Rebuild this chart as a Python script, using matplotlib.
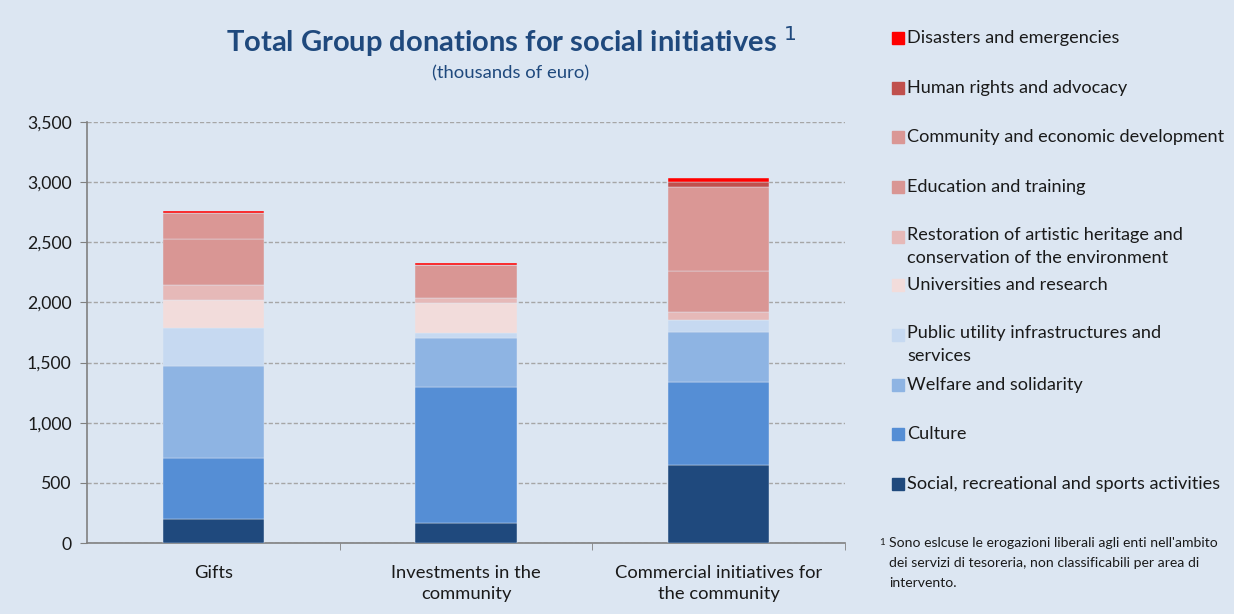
import matplotlib.pyplot as plt
import numpy as np
from matplotlib.patches import Rectangle

plt.rcParams['font.family'] = ['Lato', 'DejaVu Sans']

categories = ['Gifts', 'Investments in the\ncommunity', 'Commercial initiatives for\nthe community']

# stacked from bottom to top
series = ['Social, recreational and sports activities',
          'Culture',
          'Welfare and solidarity',
          'Public utility infrastructures and\nservices',
          'Universities and research',
          'Restoration of artistic heritage and\nconservation of the environment',
          'Education and training',
          'Community and economic development',
          'Human rights and advocacy',
          'Disasters and emergencies']

social = [197, 169, 651]
culture = [512, 1131, 688]
welfare = [763, 407, 418]
public_utility = [313, 39, 94]
universities = [238, 249, 0]
restoration = [119, 42, 67]
education = [383, 277, 343]
community = [221, 0, 699]
human_rights = [0, 0, 41]
disasters = [15, 12, 34]

values = [social, culture, welfare, public_utility, universities,
          restoration, education, community, human_rights, disasters]

colors = ['#1F497D', '#558ED5', '#8EB4E3', '#C6D9F1', '#F2DCDB',
          '#E6B9B8', '#D99694', '#DA9795', '#C0504D', '#FF0000']

bg = '#DCE6F2'
navy = '#1F497D'
txt = '#1a1a1a'

fig = plt.figure(figsize=(12.34, 6.14), dpi=100, facecolor=bg)
ax = fig.add_axes([87 / 1234, 1 - 543 / 614, (845 - 87) / 1234, (543 - 122) / 614])
ax.set_facecolor(bg)

x = np.arange(len(categories))
bottom = np.zeros(len(categories))
for vals, col, name in zip(values, colors, series):
    ax.bar(x, vals, width=0.4, bottom=bottom, color=col, edgecolor='#E0E8F3',
           linewidth=0.3, label=name, zorder=3)
    bottom += np.array(vals)

ax.set_xlim(-0.5, 2.5)
ax.set_ylim(0, 3500)
ax.set_yticks(np.arange(0, 3501, 500))
ax.set_yticklabels(['{:,}'.format(v) for v in range(0, 3501, 500)], fontsize=12.7, color=txt)
ax.yaxis.grid(True, linestyle=(0, (3, 1.5)), color='#A6A6A6', linewidth=1, zorder=0)
ax.tick_params(axis='y', length=5, color='#808080', pad=6)

ax.set_xticks(x)
ax.set_xticklabels(categories, fontsize=13.2, color=txt, linespacing=1.4)
ax.tick_params(axis='x', length=0, pad=16)
ax.set_xticks([0.5, 1.5, 2.5], minor=True)
ax.tick_params(axis='x', which='minor', length=5, color='#808080')

for s in ['top', 'right']:
    ax.spines[s].set_visible(False)
for s in ['left', 'bottom']:
    ax.spines[s].set_color('#808080')
    ax.spines[s].set_linewidth(1.2)

# title
fig.text(511 / 1234, 1 - 42 / 614, 'Total Group donations for social initiatives $^{1}$',
         ha='center', va='center', fontsize=21, fontweight='bold', color=navy)
fig.text(511 / 1234, 1 - 73 / 614, '(thousands of euro)', ha='center', va='center',
         fontsize=13.3, color=navy)

# legend, top entry first
legend_y = [38, 88, 137, 187, 237, 285, 335, 385, 434, 484]
for yy, name, col in zip(legend_y, series[::-1], colors[::-1]):
    fig.patches.append(Rectangle((892 / 1234, 1 - (yy + 6) / 614), 12 / 1234, 12 / 614,
                                 transform=fig.transFigure, color=col))
    if '\n' in name:
        fig.text(907 / 1234, 1 - (yy - 10) / 614, name, ha='left', va='top',
                 fontsize=13.1, color=txt, linespacing=1.55)
    else:
        fig.text(907 / 1234, 1 - yy / 614, name, ha='left', va='center',
                 fontsize=13.1, color=txt)

# footnote
fig.text(879 / 1234, 1 - 538 / 614, '1', fontsize=7, color=txt, va='top')
fig.text(889 / 1234, 1 - 537 / 614,
         "Sono eslcuse le erogazioni liberali agli enti nell'ambito\n"
         "dei servizi di tesoreria, non classificabili per area di\n"
         "intervento.", ha='left', va='top', fontsize=10.1, color=txt, linespacing=1.8)

fig.savefig('out.png', dpi=100, facecolor=bg)
